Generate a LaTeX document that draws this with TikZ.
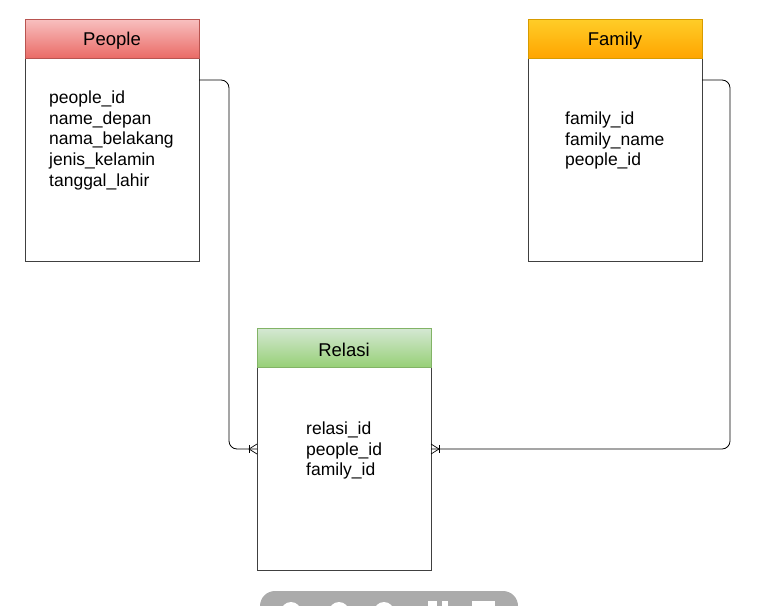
\documentclass[tikz,border=0pt]{standalone}
\usepackage{fontspec}
\setmainfont{Liberation Sans}
\begin{document}
\begin{tikzpicture}[x=1pt,y=-1pt,
  body/.style={draw=black!75,fill=white,line width=0.8pt},
  attr/.style={anchor=north west,font=\fontsize{17.5}{20.8}\selectfont,align=left,inner sep=0pt},
  title/.style={font=\fontsize{18.5}{20}\selectfont,inner sep=0pt},
  conn/.style={draw=black,line width=0.8pt,rounded corners=8pt},
  crow/.style={line width=0.7pt}]
\useasboundingbox (0,0) rectangle (773,605);
% People
\draw[body] (25,58) rectangle (199,261);
\shade[top color={rgb,255:red,248;green,192;blue,192},bottom color={rgb,255:red,234;green,107;blue,102}] (25,19) rectangle (199,58);
\draw[draw={rgb,255:red,184;green,84;blue,80},line width=0.8pt] (25,19) rectangle (199,58);
\node[title] (peopleT) at (112,40.5) {People};
\coordinate (peopleB) at (199,80);
\node[attr] (peopleA) at (49,90.5) {people\_id\\name\_depan\\nama\_belakang\\jenis\_kelamin\\tanggal\_lahir};
% Family
\draw[body] (528,58) rectangle (702,261);
\shade[top color={rgb,255:red,255;green,205;blue,40},bottom color={rgb,255:red,255;green,165;blue,0}] (528,19) rectangle (702,58);
\draw[draw={rgb,255:red,215;green,155;blue,0},line width=0.8pt] (528,19) rectangle (702,58);
\node[title] (familyT) at (615,40.5) {Family};
\node[attr] (familyA) at (565,111.5) {family\_id\\family\_name\\people\_id};
\coordinate (familyB) at (702,80);
% Relasi
\draw[body] (257,367) rectangle (431,570);
\shade[top color={rgb,255:red,213;green,232;blue,212},bottom color={rgb,255:red,151;green,208;blue,119}] (257,328) rectangle (431,367);
\draw[draw={rgb,255:red,130;green,179;blue,102},line width=0.8pt] (257,328) rectangle (431,367);
\node[title] (relasiT) at (344,349.5) {Relasi};
\node[attr] (relasiA) at (306,421.5) {relasi\_id\\people\_id\\family\_id};
\coordinate (relasiL) at (257,449);
\coordinate (relasiR) at (431,449);
% connectors
\draw[conn] (peopleB) -- (229,80) -- (229,449) -- (relasiL);
\draw[conn] (familyB) -- (730,80) -- (730,449) -- (relasiR);
% crow's foot markers
\draw[crow] (249,445) -- (249,453);
\draw[crow] (257,444) -- (249,449) -- (257,454);
\draw[crow] (439,445) -- (439,453);
\draw[crow] (431,444) -- (439,449) -- (431,454);
% toolbar (cut off)
\fill[black!33] (260,620) -- (260,606) arc (180:270:15) -- (503,591) arc (270:360:15) -- (518,620) -- cycle;
\fill[white] (291,612) circle (10);
\fill[white] (339,612) circle (10);
\fill[white] (384,612) circle (10);
\fill[white] (428,601) rectangle (437,606);
\fill[white] (442,601) rectangle (448,606);
\fill[white] (472,601) -- (495,601) -- (495,606) -- (472,606) -- cycle;
\end{tikzpicture}
\end{document}
